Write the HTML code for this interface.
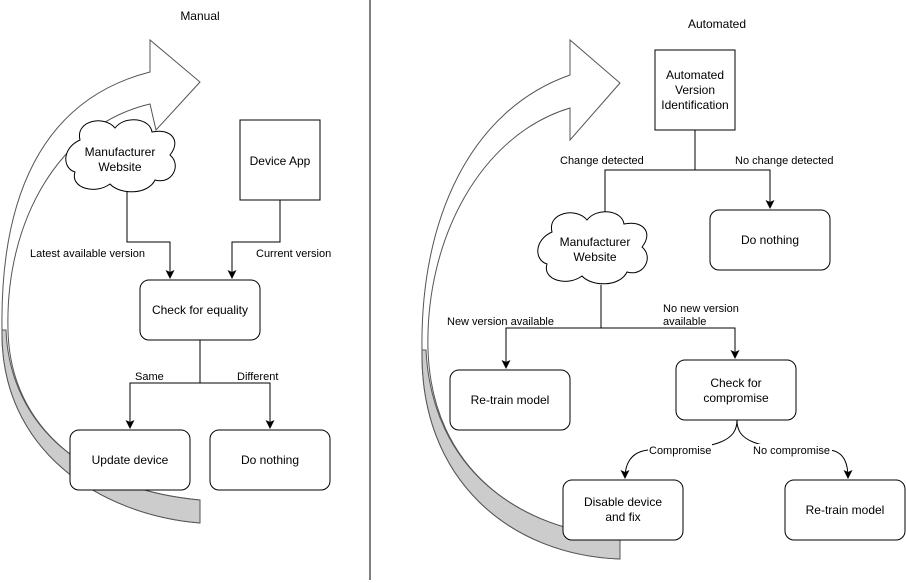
<!DOCTYPE html>
<html><head><style>body{margin:0;background:#fff}svg{display:block}text{font-family:"Liberation Sans",Arial,sans-serif;font-size:12px;fill:#000}</style></head><body>
<svg width="906" height="583" viewBox="0 0 906 583" xmlns="http://www.w3.org/2000/svg">
<defs><marker id="a" markerWidth="8" markerHeight="8" refX="4" refY="7" orient="auto" markerUnits="userSpaceOnUse" viewBox="0 0 8 8"><path d="M0,0 L4,8 L8,0 L4,2 Z" fill="#000" transform="rotate(-90 4 4)"/></marker>
<marker id="d" markerWidth="9" markerHeight="9" refX="8" refY="4.5" orient="auto" markerUnits="userSpaceOnUse"><path d="M0,0 L9,4.5 L0,9 L2,4.5 Z" fill="#000"/></marker></defs>
<rect width="906" height="583" fill="#fff"/>
<line x1="370" y1="0" x2="370" y2="580" stroke="#000"/>
<text x="200" y="20" text-anchor="middle">Manual</text>
<text x="717" y="28" text-anchor="middle">Automated</text>
<!-- left big arrow -->
<path d="M150,72 L150,40 L200,82 L156,130 L150,104 C60,125 5,220 8,330 C10,430 90,490 200,500 L200,523 C100,515 0,450 2,330 C0,200 40,100 150,72 Z" fill="#fff" stroke="#555"/>
<path d="M2,330 C0,450 100,515 200,523 L200,500 C90,490 10,430 6,330 Z" fill="#ccc" stroke="#555"/>
<!-- right big arrow -->
<path d="M570,75 L570,40 L620,83 L570,140 L570,108 C480,135 425,240 428,350 C432,470 520,530 620,537 L620,559 C510,555 420,480 422,350 C420,220 470,110 570,75 Z" fill="#fff" stroke="#555"/>
<path d="M422,350 C420,480 510,555 620,559 L620,537 C520,530 432,470 426,350 Z" fill="#ccc" stroke="#555"/>
<g fill="none" stroke="#000">
<!-- left connectors -->
<polyline points="127,190 127,242 170,242 170,278" marker-end="url(#d)"/>
<polyline points="280,200 280,242 232,242 232,278" marker-end="url(#d)"/>
<polyline points="200,340 200,383 130,383 130,428" marker-end="url(#d)"/>
<polyline points="200,383 270,383 270,428" marker-end="url(#d)"/>
<!-- right connectors -->
<polyline points="695,130 695,170 605,170 605,220" marker-end="url(#d)"/>
<polyline points="695,170 770,170 770,208" marker-end="url(#d)"/>
<polyline points="601,285 601,328 506,328 506,368" marker-end="url(#d)"/>
<polyline points="601,328 735,328 735,358" marker-end="url(#d)"/>
<path d="M737,420 C737,440 720,450 648,450 C630,452 625,465 625,478" marker-end="url(#d)"/>
<path d="M737,420 C737,440 752,450 830,450 C845,452 848,465 848,478" marker-end="url(#d)"/>
</g>
<g fill="#fff" stroke="#000">
<path d="M80,140 C75,120 105,115 115,128 C125,115 150,118 152,132 C170,128 182,140 170,155 C182,165 172,185 155,180 C148,195 120,195 110,184 C95,195 70,188 75,172 C62,168 62,148 80,140 Z"/>
<rect x="240" y="120" width="80" height="80"/>
<rect x="140" y="280" width="120" height="60" rx="9"/>
<rect x="70" y="430" width="120" height="60" rx="9"/>
<rect x="210" y="430" width="120" height="60" rx="9"/>
<rect x="655" y="50" width="80" height="80"/>
<rect x="710" y="210" width="120" height="60" rx="9"/>
<path d="M552,232 C547,212 577,207 587,220 C597,207 622,210 624,224 C642,220 654,232 642,247 C654,257 644,277 627,272 C620,287 592,287 582,276 C567,287 542,280 547,264 C534,260 534,240 552,232 Z"/>
<rect x="450" y="370" width="120" height="60" rx="9"/>
<rect x="676" y="360" width="120" height="60" rx="9"/>
<rect x="563" y="480" width="120" height="60" rx="9"/>
<rect x="785" y="480" width="120" height="60" rx="9"/>
</g>
<g text-anchor="middle">
<text x="120" y="156">Manufacturer</text><text x="120" y="171">Website</text>
<text x="280" y="165">Device App</text>
<text x="200" y="314">Check for equality</text>
<text x="130" y="464">Update device</text>
<text x="270" y="464">Do nothing</text>
<text x="695" y="79">Automated</text><text x="695" y="94">Version</text><text x="695" y="109">Identification</text>
<text x="770" y="244">Do nothing</text>
<text x="595" y="246">Manufacturer</text><text x="595" y="261">Website</text>
<text x="510" y="404">Re-train model</text>
<text x="736" y="387">Check for</text><text x="736" y="402">compromise</text>
<text x="623" y="506">Disable device</text><text x="623" y="521">and fix</text>
<text x="845" y="514">Re-train model</text>
</g>
<g font-size="11">
<text x="30" y="257" style="font-size:11px">Latest available version</text>
<text x="256" y="257" style="font-size:11px">Current version</text>
<text x="135" y="380" style="font-size:11px">Same</text>
<text x="237" y="380" style="font-size:11px">Different</text>
<text x="560" y="164" style="font-size:11px">Change detected</text>
<text x="735" y="164" style="font-size:11px">No change detected</text>
<text x="447" y="325" style="font-size:11px">New version available</text>
<text x="663" y="312" style="font-size:11px">No new version</text>
<text x="663" y="325" style="font-size:11px">available</text>
<rect x="648" y="444" width="64" height="12" fill="#fff"/>
<text x="649" y="454" style="font-size:11px">Compromise</text>
<rect x="752" y="444" width="80" height="12" fill="#fff"/>
<text x="753" y="454" style="font-size:11px">No compromise</text>
</g>
</svg>
</body></html>
